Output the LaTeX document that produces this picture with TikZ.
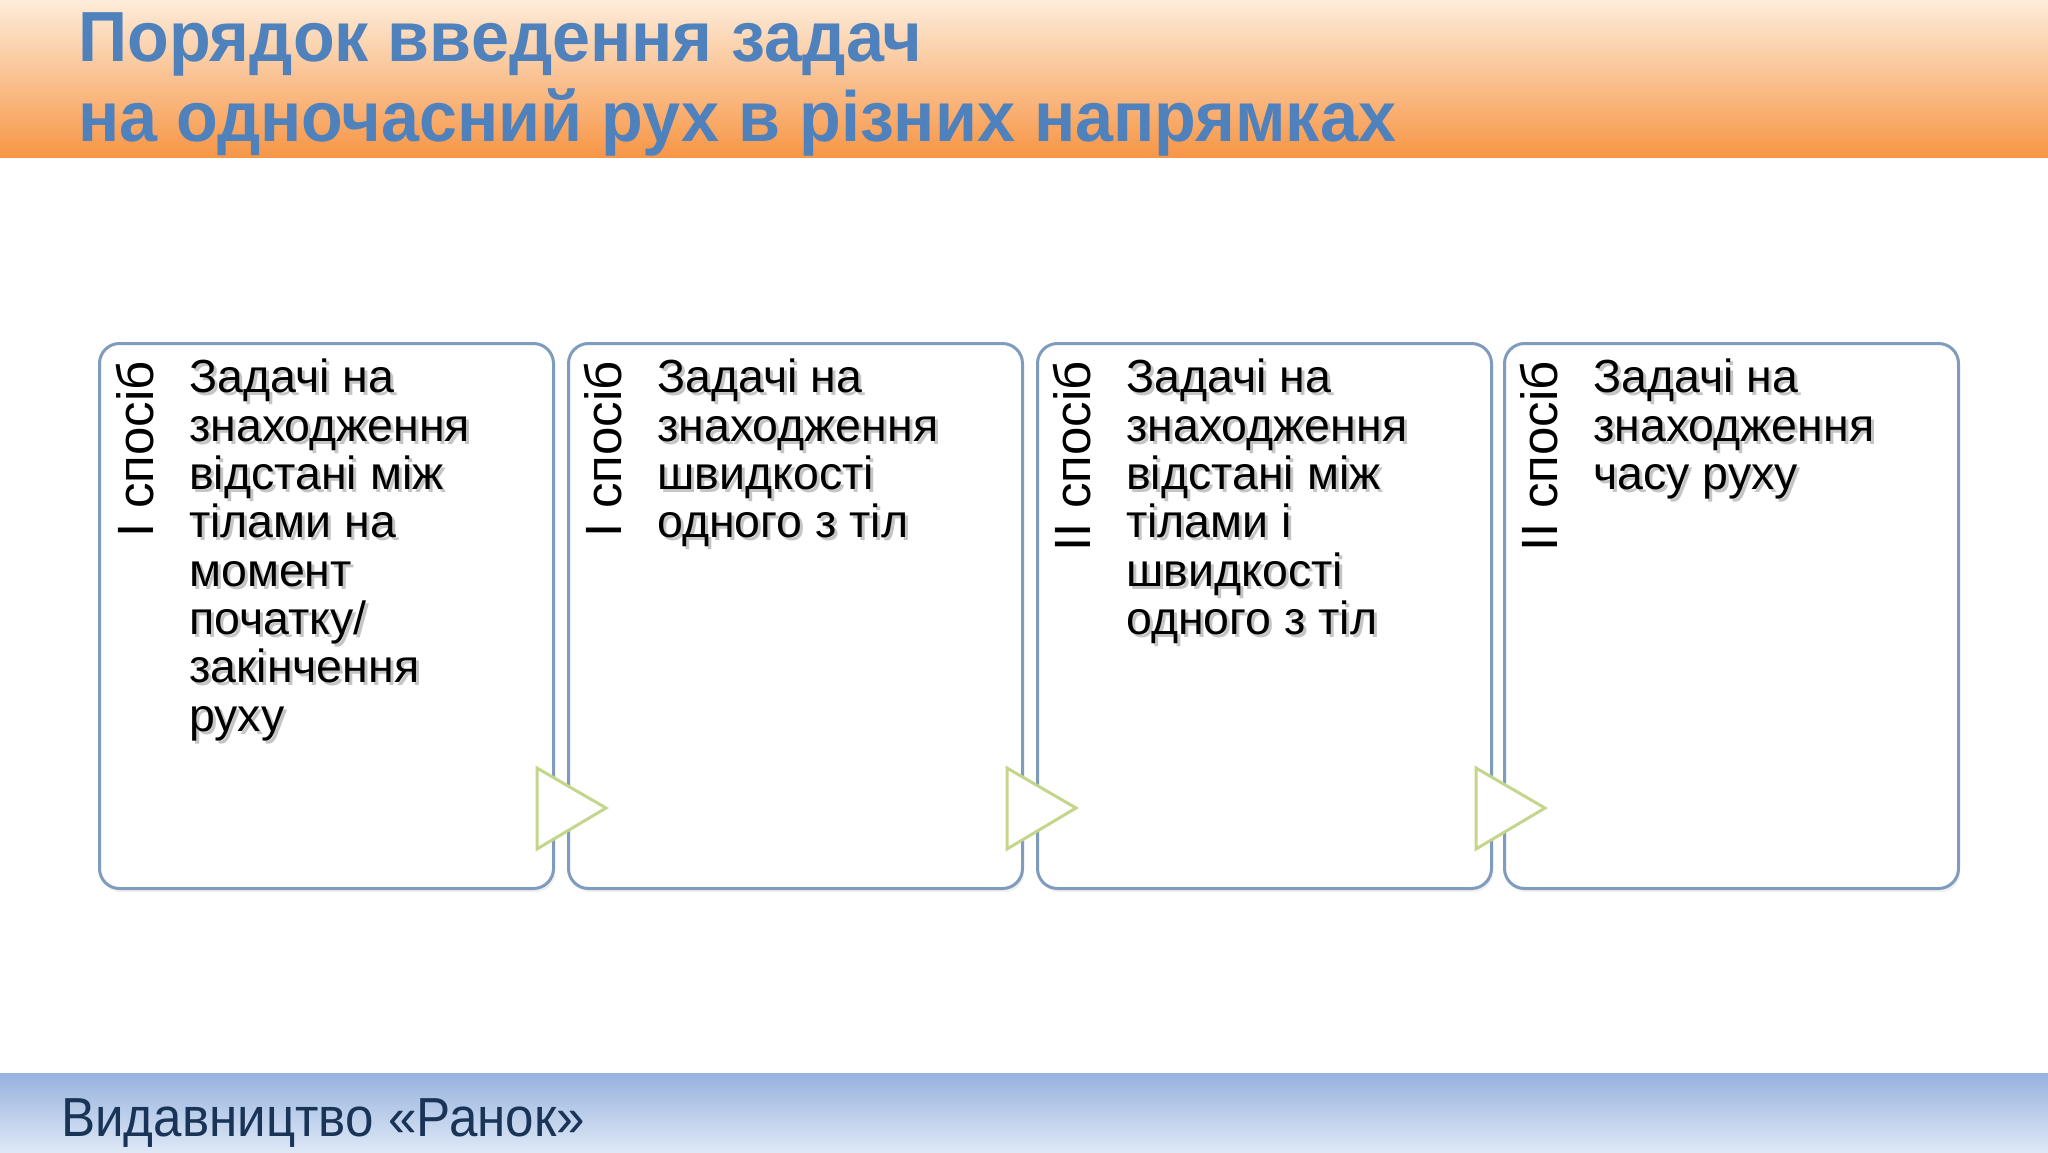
\documentclass[tikz,border=0pt]{standalone}
\usepackage{fontspec}
\setmainfont{Liberation Sans}
\definecolor{hdtop}{RGB}{253,236,218}
\definecolor{hdbot}{RGB}{247,150,70}
\definecolor{fttop}{RGB}{150,178,222}
\definecolor{ftbot}{RGB}{222,232,246}
\definecolor{titleblue}{RGB}{79,129,189}
\definecolor{ftxt}{RGB}{26,52,88}
\definecolor{boxline}{RGB}{127,155,190}
\definecolor{trigreen}{RGB}{196,214,140}
\tikzset{
  title/.style={anchor=base west, inner sep=0, text=titleblue, font=\fontsize{71}{80}\selectfont\bfseries},
  stepbox/.style={draw=boxline, line width=3pt, rounded corners=20pt, fill=white, minimum width=454pt, minimum height=545pt, anchor=north west, inner sep=0},
  boxshadow/.style={fill=black, opacity=0.06, rounded corners=20pt, minimum width=454pt, minimum height=545pt, anchor=north west, inner sep=0},
  boxtext/.style={anchor=north west, inner sep=0, align=left, font=\fontsize{46.5}{48.3}\selectfont, text=black},
  boxtextsh/.style={boxtext, text=black!45, opacity=0.5},
  lab/.style={rotate=90, anchor=east, inner sep=0, font=\fontsize{51}{56}\selectfont, text=black},
  tri/.style={draw=trigreen, line width=3pt, fill=white, line join=miter}
}
\begin{document}
\begin{tikzpicture}[x=1pt,y=-1pt]
\useasboundingbox (0,0) rectangle (2048,1152);
\fill[white] (0,0) rectangle (2048,1152);
% header band
\shade[top color=hdtop, bottom color=hdbot] (0,0) rectangle (2048,157);
% footer band
\shade[top color=fttop, bottom color=ftbot] (0,1073) rectangle (2048,1152);
% title
\node[title] (t1) at (78,61) {\scalebox{0.962}[1]{Порядок введення задач}};
\node[title] (t2) at (78,141) {\scalebox{0.962}[1]{на одночасний рух в різних напрямках}};
% footer text
\node[anchor=base west, inner sep=0, text=ftxt, font=\fontsize{55}{60}\selectfont] (ft) at (61,1136) {\scalebox{0.93}[1]{Видавництво «Ранок»}};
% box shadows
\node[boxshadow] (sh1) at (101,347) {};
\node[boxshadow] (sh2) at (570,347) {};
\node[boxshadow] (sh3) at (1039,347) {};
\node[boxshadow] (sh4) at (1506,347) {};
% boxes
\node[stepbox] (b1) at (98,342) {};
\node[stepbox] (b2) at (567,342) {};
\node[stepbox] (b3) at (1036,342) {};
\node[stepbox] (b4) at (1503,342) {};
% rotated labels
\node[lab] (l1) at (135,361) {I спосіб};
\node[lab] (l2) at (603,361) {I спосіб};
\node[lab] (l3) at (1072,361) {II спосіб};
\node[lab] (l4) at (1539,361) {II спосіб};
% text shadows
\node[boxtextsh] (x1s) at (192,362) {Задачі на\\знаходження\\відстані між\\тілами на\\момент\\початку/\\закінчення\\руху};
\node[boxtextsh] (x2s) at (660,362) {Задачі на\\знаходження\\швидкості\\одного з тіл};
\node[boxtextsh] (x3s) at (1129,362) {Задачі на\\знаходження\\відстані між\\тілами і\\швидкості\\одного з тіл};
\node[boxtextsh] (x4s) at (1596,362) {Задачі на\\знаходження\\часу руху};
% texts
\node[boxtext] (x1) at (189,359) {Задачі на\\знаходження\\відстані між\\тілами на\\момент\\початку/\\закінчення\\руху};
\node[boxtext] (x2) at (657,359) {Задачі на\\знаходження\\швидкості\\одного з тіл};
\node[boxtext] (x3) at (1126,359) {Задачі на\\знаходження\\відстані між\\тілами і\\швидкості\\одного з тіл};
\node[boxtext] (x4) at (1593,359) {Задачі на\\знаходження\\часу руху};
% arrow triangles between boxes
\draw[tri] ([xshift=-18pt]b1.east |- 0,768) -- ([xshift=51pt]b1.east |- 0,808) -- ([xshift=-18pt]b1.east |- 0,849) -- cycle;
\draw[tri] ([xshift=-17pt]b2.east |- 0,768) -- ([xshift=52pt]b2.east |- 0,808) -- ([xshift=-17pt]b2.east |- 0,849) -- cycle;
\draw[tri] ([xshift=-17pt]b3.east |- 0,768) -- ([xshift=52pt]b3.east |- 0,808) -- ([xshift=-17pt]b3.east |- 0,849) -- cycle;
\end{tikzpicture}
\end{document}
